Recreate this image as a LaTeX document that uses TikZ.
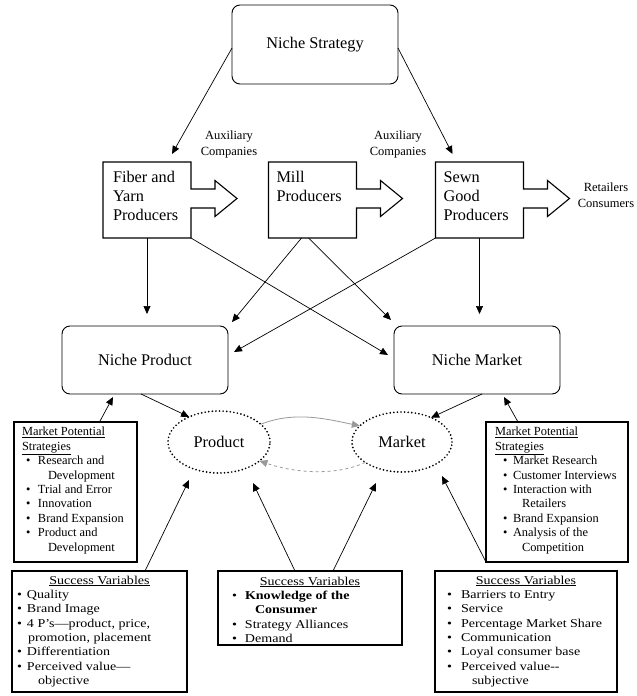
\documentclass[tikz,border=0pt]{standalone}
\usepackage{fontspec}
\setmainfont{Liberation Serif}
% slightly widened face for the success-variable lists
\newfontfamily\svfont[FakeStretch=1.17]{Liberation Serif}
\usetikzlibrary{arrows.meta,calc,shapes.geometric}
% bullet item: bullet in a box of width #1, then the text
\newcommand\bitem[2]{\makebox[#1][l]{\textbullet}#2}
% outline of a producer box joined to its outgoing block arrow
\newcommand\producerpath[1]{%
  \draw[plainbox] ($(#1.east)+(0,-11)$) -- (#1.north east) -- (#1.north west)
    -- (#1.south west) -- (#1.south east) -- ($(#1.east)+(0,8)$)
    -- ($(#1.east)+(24,8)$) -- ($(#1.east)+(24,16.5)$) -- ($(#1.east)+(46,-1.5)$)
    -- ($(#1.east)+(24,-19.5)$) -- ($(#1.east)+(24,-11)$) -- cycle;}
\begin{document}
\begin{tikzpicture}[x=1pt,y=-1pt,
  every node/.style={inner sep=0pt,outer sep=0pt},
  bigfont/.style={font=\fontsize{16.3}{19}\selectfont},
  smallfont/.style={font=\fontsize{12.4}{14.4}\selectfont},
  svfontsz/.style={font=\svfont\fontsize{12}{14.4}\selectfont},
  auxfont/.style={font=\fontsize{12.5}{16}\selectfont},
  roundbox/.style={draw,rounded corners=8pt,line width=0.9pt,
    minimum width=166pt,minimum height=68pt,bigfont},
  plainbox/.style={draw,line width=1.1pt},
  prodbox/.style={minimum width=88pt,minimum height=76pt},
  listbox/.style={draw,line width=1.2pt},
  conn/.style={-{Triangle[length=8pt,width=7pt]},line width=0.7pt},
  grayconn/.style={-{Triangle[length=8pt,width=7pt]},line width=0.8pt,draw=black!40},
  dotell/.style={draw,ellipse,line width=1.9pt,line cap=round,
    dash pattern=on 0pt off 3.6pt,bigfont},
  bigtext/.style={bigfont,anchor=north west,align=left},
  listtext/.style={smallfont,anchor=north west,align=left},
  svtext/.style={svfontsz,anchor=north west,align=left},
  sectitle/.style={svfontsz,anchor=base},
]
\useasboundingbox (0,0) rectangle (637,696);

% ---- top: strategy and producers ----
\node[roundbox,minimum height=79pt] (strategy) at (315,44.5) {Niche Strategy};

\node[prodbox] (fiber) at (147,200) {};
\node[prodbox] (mill)  at (312.5,200) {};
\node[prodbox] (sewn)  at (479.5,200) {};
\producerpath{fiber}
\producerpath{mill}
\producerpath{sewn}
% text blocks start with a strut: first baseline sits 13.3pt below the node top
\node[bigtext] (fibertxt) at ($(fiber.north west)+(10,6.7)$) {\strut Fiber and\\Yarn\\Producers};
\node[bigtext] (milltxt) at ($(mill.north west)+(8,6.7)$) {\strut Mill\\Producers};
\node[bigtext] (sewntxt) at ($(sewn.north west)+(8,6.7)$) {\strut Sewn\\Good\\Producers};

\node[auxfont,align=center] (aux1) at (229,144) {Auxiliary\\Companies};
\node[auxfont,align=center] (aux2) at (398,144) {Auxiliary\\Companies};
\node[auxfont,align=center] (retail) at (606,195) {Retailers\\Consumers};

% ---- niche product / niche market ----
\node[roundbox] (nprod) at (145,360) {Niche Product};
\node[roundbox] (nmkt)  at (477,360) {Niche Market};

\draw[conn] ($(strategy.west)+(0,3.5)$) -- ($(fiber.north)+(25,-8)$);
\draw[conn] ($(strategy.east)+(0,3.5)$) -- ($(sewn.north)+(-27,-8)$);
\draw[conn] (fiber.south) -- ($(fiber.south |- nprod.north)+(0,-12)$);
\draw[conn] (sewn.south) -- ($(sewn.south |- nmkt.north)+(0,-12)$);
\draw[conn] (fiber.south east) -- ($(nmkt.west)+(-6,-5)$);
\draw[conn] ($(mill.south)+(-11,0)$) -- ($(nprod.north east)+(4,-4)$);
\draw[conn] ($(mill.south)+(-4,0)$) -- ($(nmkt.north west)+(-3,-6)$);
\draw[conn] (sewn.south west) -- ($(nprod.east)+(6,-8)$);

% ---- product / market ellipses ----
\node[dotell,minimum width=102pt,minimum height=62pt] (product) at (219,442) {Product};
\node[dotell,minimum width=100pt,minimum height=60pt] (market) at (402,442) {Market};

\draw[conn] ($(nprod.south)+(-4,0)$) -- (product.140);
\draw[conn] ($(nmkt.south)+(5,0)$) -- (market.40);
\draw[grayconn] (product.23) .. controls +(35,-14) and +(-30,-6) .. (market.159);
\draw[grayconn,dashed] (market.209) .. controls +(-30,14) and +(35,12) .. (product.335);

% ---- market potential strategies ----
\node[listbox,minimum width=123pt,minimum height=140pt] (mpsL) at (75.5,492) {};
\node[listtext] (mpsLtxt) at ($(mpsL.north west)+(8,3.9)$) {%
  \strut\underline{Market Potential}\\
  \underline{Strategies}\\
  \hspace*{4pt}\bitem{12pt}{Research and}\\
  \hspace*{26pt}Development\\
  \hspace*{4pt}\bitem{12pt}{Trial and Error}\\
  \hspace*{4pt}\bitem{12pt}{Innovation}\\
  \hspace*{4pt}\bitem{12pt}{Brand Expansion}\\
  \hspace*{4pt}\bitem{12pt}{Product and}\\
  \hspace*{26pt}Development};

\node[listbox,minimum width=142pt,minimum height=140pt] (mpsR) at (557,492) {};
\node[listtext] (mpsRtxt) at ($(mpsR.north west)+(9,3.9)$) {%
  \strut\underline{Market Potential}\\
  \underline{Strategies}\\
  \hspace*{8pt}\bitem{10pt}{Market Research}\\
  \hspace*{8pt}\bitem{10pt}{Customer Interviews}\\
  \hspace*{8pt}\bitem{10pt}{Interaction with}\\
  \hspace*{27pt}Retailers\\
  \hspace*{8pt}\bitem{10pt}{Brand Expansion}\\
  \hspace*{8pt}\bitem{10pt}{Analysis of the}\\
  \hspace*{27pt}Competition};

\draw[conn] ($(mpsL.north)+(24,0)$) -- ($(nprod.south)+(-32,3)$);
\draw[conn] ($(mpsR.north)+(-39,0)$) -- ($(nmkt.south)+(27,3)$);

% ---- success variables ----
\node[listbox,minimum width=175pt,minimum height=121pt] (svL) at (99.5,631.5) {};
\node[sectitle] (svLt) at ($(svL.north)+(0,13)$) {\underline{Success Variables}};
\node[svtext] (svLtxt) at ($(svL.north west)+(5,17.3)$) {%
  \strut\bitem{10pt}{Quality}\\
  \bitem{10pt}{Brand Image}\\
  \bitem{10pt}{4 P’s—product, price,}\\
  \hspace*{11pt}promotion, placement\\
  \bitem{10pt}{Differentiation}\\
  \bitem{10pt}{Perceived value—}\\
  \hspace*{21pt}objective};

\node[listbox,minimum width=184pt,minimum height=74pt] (svM) at (310,608) {};
\node[sectitle] (svMt) at ($(svM.north)+(0,14)$) {\underline{Success Variables}};
\node[svtext] (svMtxt) at ($(svM.north west)+(14,18.3)$) {%
  \strut\bitem{13pt}{\textbf{Knowledge of the}}\\
  \hspace*{23pt}\textbf{Consumer}\\
  \bitem{13pt}{Strategy Alliances}\\
  \bitem{13pt}{Demand}};

\node[listbox,minimum width=182pt,minimum height=121pt] (svR) at (526,631.5) {};
\node[sectitle] (svRt) at ($(svR.north)+(0,13)$) {\underline{Success Variables}};
\node[svtext] (svRtxt) at ($(svR.north west)+(12,17.3)$) {%
  \strut\bitem{14pt}{Barriers to Entry}\\
  \bitem{14pt}{Service}\\
  \bitem{14pt}{Percentage Market Share}\\
  \bitem{14pt}{Communication}\\
  \bitem{14pt}{Loyal consumer base}\\
  \bitem{14pt}{Perceived value-{}-}\\
  \hspace*{25pt}subjective};

\draw[conn] ($(svL.north)+(45.5,0)$) -- ($(product)+(-30,38)$);
\draw[conn] ($(svM.north)+(-15,0)$) -- ($(product)+(34,41)$);
\draw[conn] ($(svM.north)+(23,0)$) -- ($(market)+(-26,41)$);
\draw[conn] (mpsR.south west) -- ($(market)+(40,34)$);
\end{tikzpicture}
\end{document}
